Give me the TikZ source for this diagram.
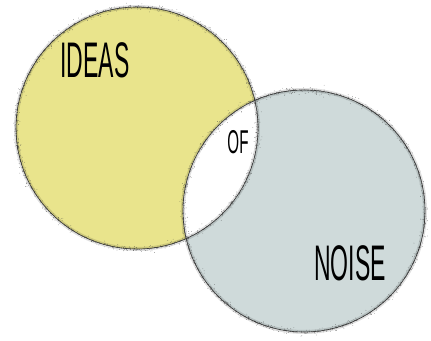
\documentclass[tikz,border=0pt]{standalone}
\usepackage{fontspec}
\setmainfont{Liberation Sans}
\definecolor{ideasyellow}{RGB}{233,228,140}
\definecolor{noisegray}{RGB}{207,218,218}
\tikzset{
  word/.style={inner sep=0pt, font=\fontsize{50}{50}\selectfont, xscale=0.46},
  rim/.style={black!80, line width=0.6pt},
  halo/.style={black, opacity=0.12, line width=4pt}
}

\begin{document}
\begin{tikzpicture}[x=1pt,y=1pt]
    \useasboundingbox (0,0) rectangle (431,340);
    % 两个圆心
    \coordinate (I) at (137,212);
    \coordinate (N) at (304,129);

    % 填色
    \fill[ideasyellow] (I) circle (121);
    \fill[noisegray] (N) circle (121);
    \begin{scope}
      \clip (I) circle (121);
      \fill[white] (N) circle (121);
    \end{scope}

    % 颗粒状边缘
    \pgfmathsetseed{7}
    \foreach \c in {I,N} {
      \draw[halo] (\c) circle (121);
      \foreach \i in {1,...,1400} {
        \pgfmathsetmacro\a{360*rnd}
        \pgfmathsetmacro\d{121+7*rand*rnd*rnd}
        \fill[black!75] (\c) ++(\a:\d) circle (0.3);
      }
      \draw[rim] (\c) circle (121);
    }

    % 文字
    \node[word] (ideas) at (95,280) {IDEAS};
    \node[word, font=\fontsize{33}{33}\selectfont] (of) at (238,197.5) {OF};
    \node[word] (noise) at (350,77) {NOISE};
\end{tikzpicture}
\end{document}
